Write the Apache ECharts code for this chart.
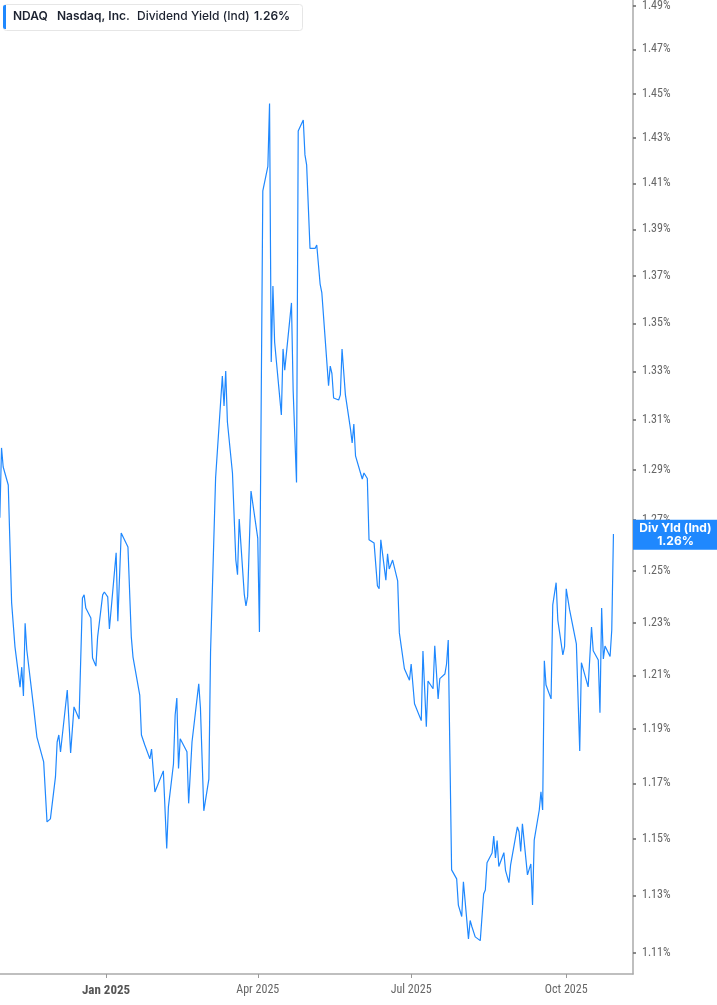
<!DOCTYPE html>
<html>
<head>
<meta charset="utf-8">
<title>NDAQ Dividend Yield</title>
<script src="https://cdn.jsdelivr.net/npm/echarts@6/dist/echarts.min.js"></script>
<style>
  html, body { margin: 0; padding: 0; background: #fff; }
  #chart { width: 717px; height: 1005px; }
</style>
</head>
<body>
<div id="chart"></div>
<script>
// trading dates
var dates = [
    '2024-10-30', '2024-10-31', '2024-11-01', '2024-11-04', '2024-11-06', '2024-11-08', '2024-11-11', '2024-11-12', '2024-11-13', '2024-11-14',
    '2024-11-15', '2024-11-19', '2024-11-20', '2024-11-21', '2024-11-25', '2024-11-27', '2024-11-29', '2024-12-02', '2024-12-03', '2024-12-04',
    '2024-12-05', '2024-12-09', '2024-12-11', '2024-12-13', '2024-12-16', '2024-12-18', '2024-12-19', '2024-12-20', '2024-12-23', '2024-12-24',
    '2024-12-26', '2024-12-27', '2024-12-30', '2024-12-31', '2025-01-02', '2025-01-03', '2025-01-07', '2025-01-08', '2025-01-10', '2025-01-14',
    '2025-01-16', '2025-01-17', '2025-01-21', '2025-01-22', '2025-01-24', '2025-01-27', '2025-01-28', '2025-01-30', '2025-01-31', '2025-02-04',
    '2025-02-06', '2025-02-07', '2025-02-10', '2025-02-11', '2025-02-12', '2025-02-13', '2025-02-14', '2025-02-18', '2025-02-19', '2025-02-20',
    '2025-02-21', '2025-02-25', '2025-02-26', '2025-02-28', '2025-03-03', '2025-03-04', '2025-03-05', '2025-03-07', '2025-03-11', '2025-03-12',
    '2025-03-13', '2025-03-14', '2025-03-17', '2025-03-19', '2025-03-20', '2025-03-21', '2025-03-24', '2025-03-25', '2025-03-26', '2025-03-28',
    '2025-04-01', '2025-04-02', '2025-04-04', '2025-04-07', '2025-04-08', '2025-04-09', '2025-04-10', '2025-04-11', '2025-04-15', '2025-04-16',
    '2025-04-17', '2025-04-21', '2025-04-22', '2025-04-24', '2025-04-25', '2025-04-28', '2025-04-29', '2025-04-30', '2025-05-01', '2025-05-02',
    '2025-05-05', '2025-05-06', '2025-05-08', '2025-05-09', '2025-05-13', '2025-05-14', '2025-05-15', '2025-05-16', '2025-05-19', '2025-05-20',
    '2025-05-21', '2025-05-23', '2025-05-26', '2025-05-27', '2025-05-28', '2025-05-29', '2025-06-02', '2025-06-03', '2025-06-05', '2025-06-06',
    '2025-06-09', '2025-06-11', '2025-06-12', '2025-06-13', '2025-06-16', '2025-06-17', '2025-06-18', '2025-06-20', '2025-06-23', '2025-06-24',
    '2025-06-25', '2025-06-27', '2025-06-30', '2025-07-01', '2025-07-03', '2025-07-07', '2025-07-08', '2025-07-10', '2025-07-11', '2025-07-14',
    '2025-07-15', '2025-07-17', '2025-07-18', '2025-07-21', '2025-07-22', '2025-07-23', '2025-07-25', '2025-07-28', '2025-07-29', '2025-07-31',
    '2025-08-01', '2025-08-04', '2025-08-05', '2025-08-06', '2025-08-07', '2025-08-08', '2025-08-11', '2025-08-13', '2025-08-14', '2025-08-15',
    '2025-08-18', '2025-08-19', '2025-08-20', '2025-08-21', '2025-08-22', '2025-08-25', '2025-08-26', '2025-08-27', '2025-08-28', '2025-08-29',
    '2025-09-02', '2025-09-03', '2025-09-04', '2025-09-05', '2025-09-08', '2025-09-10', '2025-09-11', '2025-09-12', '2025-09-15', '2025-09-16',
    '2025-09-17', '2025-09-18', '2025-09-19', '2025-09-22', '2025-09-23', '2025-09-25', '2025-09-26', '2025-09-29', '2025-09-30', '2025-10-01',
    '2025-10-03', '2025-10-07', '2025-10-09', '2025-10-10', '2025-10-14', '2025-10-15', '2025-10-16', '2025-10-17', '2025-10-20', '2025-10-21',
    '2025-10-22', '2025-10-23', '2025-10-24', '2025-10-27', '2025-10-28', '2025-10-29'
];

// dividend yield (ind), in %
var yieldPct = [
    1.2708, 1.2987, 1.2910, 1.2838, 1.2376, 1.2207, 1.2056, 1.2131, 1.2023, 1.2298,
    1.2196, 1.1982, 1.1989, 1.1870, 1.1779, 1.1561, 1.1572, 1.1724, 1.1852, 1.1878,
    1.1815, 1.2045, 1.1812, 1.1982, 1.1937, 1.2395, 1.2407, 1.2356, 1.2318, 1.2166,
    1.2135, 1.2245, 1.2407, 1.2418, 1.2399, 1.2276, 1.2570, 1.2306, 1.2648, 1.2593,
    1.2245, 1.2169, 1.2026, 1.1878, 1.1841, 1.1790, 1.1826, 1.1669, 1.1662, 1.1746,
    1.1466, 1.1615, 1.1771, 1.1952, 1.2015, 1.1755, 1.1864, 1.1816, 1.1628, 1.1631,
    1.1852, 1.2068, 1.1978, 1.1601, 1.1716, 1.2188, 1.2188, 1.2867, 1.3281, 1.3157,
    1.3301, 1.3092, 1.2886, 1.2542, 1.2485, 1.2703, 1.2410, 1.2364, 1.2401, 1.2814,
    1.2628, 1.2264, 1.4068, 1.4175, 1.4455, 1.3339, 1.3658, 1.3422, 1.3121, 1.3393,
    1.3305, 1.3586, 1.3221, 1.2848, 1.4332, 1.4381, 1.4226, 1.4182, 1.4186, 1.3818,
    1.3818, 1.3833, 1.3666, 1.3630, 1.3241, 1.3322, 1.3291, 1.3190, 1.3182, 1.3203,
    1.3393, 1.3203, 1.3064, 1.3007, 1.3084, 1.2955, 1.2862, 1.2886, 1.2864, 1.2621,
    1.2609, 1.2441, 1.2431, 1.2621, 1.2464, 1.2566, 1.2507, 1.2542, 1.2461, 1.2261,
    1.2264, 1.2125, 1.2082, 1.2143, 1.1994, 1.1931, 1.2192, 1.1908, 1.2079, 1.2050,
    1.2212, 1.2012, 1.2088, 1.2105, 1.2143, 1.2234, 1.1390, 1.1358, 1.1266, 1.1226,
    1.1348, 1.1148, 1.1212, 1.1191, 1.1197, 1.1155, 1.1142, 1.1305, 1.1319, 1.1415,
    1.1450, 1.1510, 1.1432, 1.1494, 1.1402, 1.1451, 1.1387, 1.1387, 1.1345, 1.1408,
    1.1543, 1.1526, 1.1455, 1.1554, 1.1372, 1.1411, 1.1266, 1.1496, 1.1604, 1.1670,
    1.1604, 1.2155, 1.2064, 1.2012, 1.2368, 1.2454, 1.2310, 1.2177, 1.2209, 1.2430,
    1.2349, 1.2219, 1.1819, 1.2148, 1.2057, 1.2053, 1.2283, 1.2193, 1.2158, 1.1960,
    1.2356, 1.2162, 1.2211, 1.2171, 1.2272, 1.2644
];

// axis ticks
var yTicks = [1.11, 1.13, 1.15, 1.17, 1.19, 1.21, 1.23, 1.25, 1.27, 1.29,
    1.31, 1.33, 1.35, 1.37, 1.39, 1.41, 1.43, 1.45, 1.47, 1.49];
var xTickDates = ['2025-01-01', '2025-04-01', '2025-07-01', '2025-10-01'];
var xTickLabels = ['Jan 2025', 'Apr 2025', 'Jul 2025', 'Oct 2025'];

var ticker = 'NDAQ';
var company = 'Nasdaq, Inc.';
var metric = 'Dividend Yield (Ind)';
var badgeName = 'Div Yld (Ind)';

var DAY = 86400000;
var BLUE = '#1f88fe';
var FONT = 'Inter, Roboto, "Noto Sans", sans-serif';
var AXIS_FONT = '"Liberation Sans Narrow", "Roboto Condensed", Roboto, sans-serif';

function toTime(s) {
    var p = s.split('-');
    return new Date(+p[0], +p[1] - 1, +p[2]).getTime();
}

var xTickTimes = xTickDates.map(toTime);
var jan1 = toTime('2025-01-01');
var last = yieldPct[yieldPct.length - 1];
var lastText = last.toFixed(2) + '%';

// log scale for y: plot ln(yield) on a value axis; x is a timestamp
var seriesData = dates.map((d, i) => [toTime(d), Math.log(yieldPct[i])]);

var myChart = echarts.init(document.getElementById('chart'), null, { renderer: 'canvas' });

var option = {
    backgroundColor: '#ffffff',
    animation: false,
    grid: {
        left: 0,
        right: 84,
        top: 0,
        bottom: 31,
        containLabel: false
    },
    xAxis: {
        type: 'value',
        min: jan1 - 62.9 * DAY,
        max: jan1 + 312.6 * DAY,
        axisLine: { show: true, lineStyle: { color: '#aaaaaa', width: 1.5 } },
        axisTick: {
            show: true,
            customValues: xTickTimes,
            length: 4,
            lineStyle: { color: '#999999', width: 1 }
        },
        axisLabel: {
            customValues: xTickTimes,
            margin: 10,
            fontFamily: AXIS_FONT,
            fontSize: 12,
            color: '#666666',
            formatter: function (v) {
                var i = xTickTimes.indexOf(v);
                if (i < 0) return '';
                return i === 0 ? '{b|' + xTickLabels[i] + '}' : xTickLabels[i];
            },
            rich: {
                b: { fontFamily: AXIS_FONT, fontSize: 13, fontWeight: 'bold', color: '#555555' }
            }
        },
        splitLine: { show: false }
    },
    yAxis: {
        type: 'value',
        position: 'right',
        min: Math.log(1.1027),
        max: Math.log(1.4928),
        axisLine: { show: true, lineStyle: { color: '#aaaaaa', width: 1.5 } },
        axisTick: {
            show: true,
            customValues: yTicks.map(Math.log),
            length: 3,
            lineStyle: { color: '#666666', width: 1.5 }
        },
        axisLabel: {
            customValues: yTicks.map(Math.log),
            margin: 9,
            fontFamily: AXIS_FONT,
            fontSize: 12,
            color: '#666666',
            formatter: (v) => Math.exp(v).toFixed(2) + '%'
        },
        splitLine: { show: false }
    },
    series: [{
        name: metric,
        type: 'line',
        data: seriesData,
        showSymbol: false,
        smooth: false,
        lineStyle: { color: BLUE, width: 1.2 },
        itemStyle: { color: BLUE },
        markLine: {
            silent: true,
            symbol: 'none',
            lineStyle: { color: 'rgba(0,0,0,0)', width: 1, type: 'solid' },
            data: [{ yAxis: Math.log(last) }],
            label: {
                show: true,
                position: 'end',
                distance: 0,
                offset: [0, -14],
                formatter: '{a|' + badgeName + '}\n{a|' + lastText + '}',
                backgroundColor: BLUE,
                padding: [2, 0, 2, 0],
                rich: {
                    a: {
                        width: 85,
                        align: 'center',
                        color: '#ffffff',
                        fontFamily: FONT,
                        fontSize: 12,
                        fontWeight: 'bold',
                        lineHeight: 13
                    }
                }
            }
        }
    }],
    graphic: [
        {
            type: 'rect',
            left: 3,
            top: 4,
            shape: { width: 299, height: 26, r: 3 },
            style: { fill: '#ffffff', stroke: '#e6e6e6', lineWidth: 1 },
            z: 10
        },
        {
            type: 'rect',
            left: 3,
            top: 5,
            shape: { width: 3, height: 24, r: [2, 0, 0, 2] },
            style: { fill: BLUE },
            z: 11
        },
        {
            type: 'text',
            left: 13,
            top: 10,
            style: { text: ticker, fill: '#1c2230', font: '600 12px ' + FONT },
            z: 11
        },
        {
            type: 'text',
            left: 57,
            top: 10,
            style: { text: company, fill: '#1c2230', font: '600 12px ' + FONT },
            z: 11
        },
        {
            type: 'text',
            left: 137,
            top: 10,
            style: { text: metric, fill: '#1c2230', font: '500 12px ' + FONT },
            z: 11
        },
        {
            type: 'text',
            left: 254,
            top: 10,
            style: { text: lastText, fill: '#1c2230', font: '600 12px ' + FONT },
            z: 11
        }
    ]
};
myChart.setOption(option);
</script>
</body>
</html>
